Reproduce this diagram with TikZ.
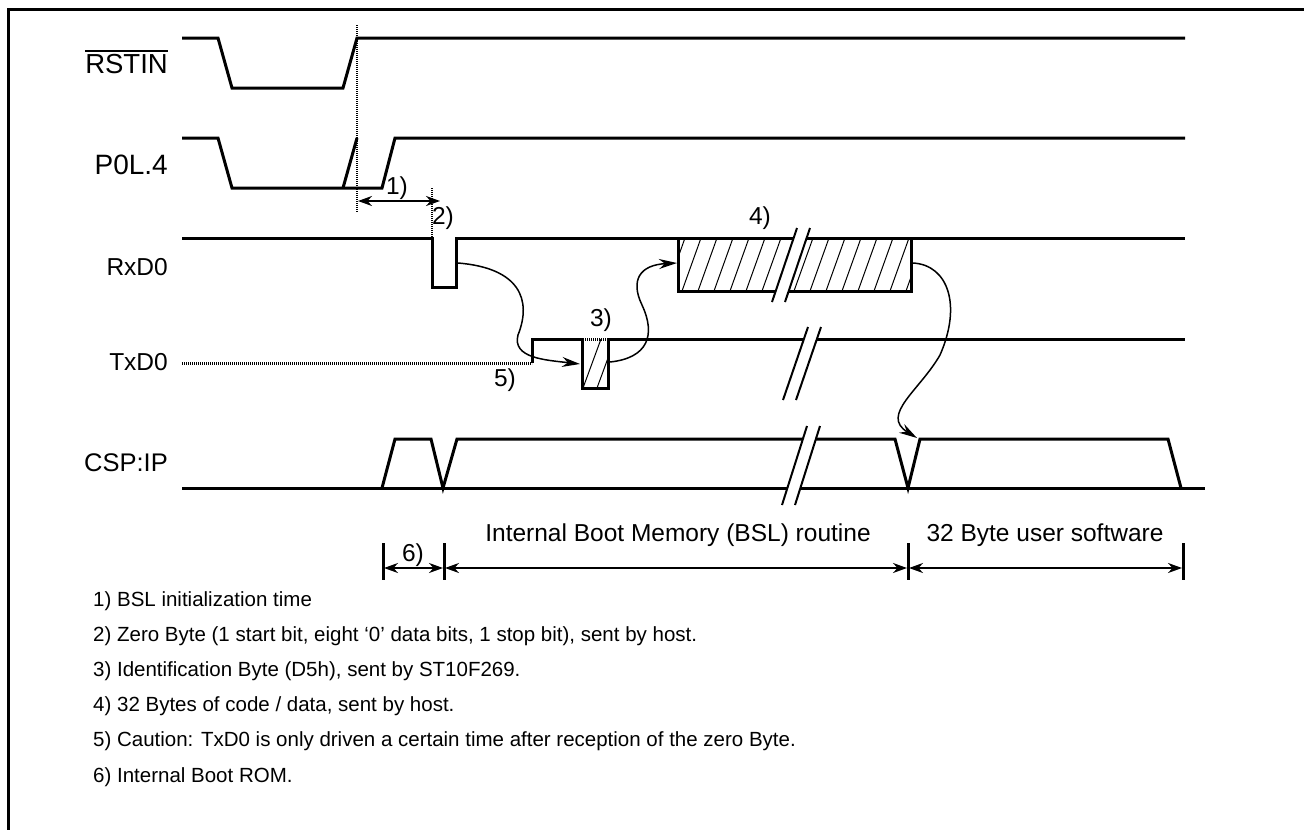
\documentclass[tikz,border=0pt]{standalone}
\usepackage{fontspec}
\setmainfont{Liberation Sans}
\usetikzlibrary{arrows.meta}

\begin{document}
\begin{tikzpicture}[x=1pt,y=-1pt,
  sig/.style={line width=3pt},
  dotline/.style={line width=3pt,dash pattern=on 1.2pt off 0.8pt},
  hatch/.style={line width=1pt},
  handarrow/.style={line width=1.5pt,-{Stealth[length=18pt,width=10pt]}},
  dim/.style={line width=2pt,{Stealth[length=14pt,width=10pt]}-{Stealth[length=14pt,width=10pt]}},
  lbl/.style={inner sep=0pt,font=\fontsize{24.5}{28}\selectfont},
  note/.style={inner sep=0pt,anchor=west,font=\fontsize{20.5}{24}\selectfont}]
\useasboundingbox (0,0) rectangle (1304,830);
% frame
\draw[line width=3pt] (8,830) -- (8,9) -- (1304,9);

% signal names
\node[lbl,anchor=east,font=\fontsize{27.5}{30}\selectfont] (rstin) at (168,64) {RSTIN};
\draw[line width=1.8pt] ([yshift=3pt]rstin.north west) -- ([yshift=3pt]rstin.north east);
\node[lbl,anchor=east,font=\fontsize{28}{30}\selectfont] (p0l) at (168,165) {P0L.4};
\node[lbl,anchor=east] (rxd) at (168,267) {RxD0};
\node[lbl,anchor=east] (txd) at (168,362) {TxD0};
\node[lbl,anchor=east,font=\fontsize{25.5}{28}\selectfont] (csp) at (168,463) {CSP:IP};

% RSTIN
\draw[sig] (182,38) -- (218,38) -- (232,88) -- (343,88) -- (357,38) -- (1185,38);
\draw[dotline,line width=2.5pt] (357,25) -- (357,212);
% P0L.4
\draw[sig] (182,138) -- (218,138) -- (232,188) -- (382,188) -- (395,138) -- (1185,138);
\draw[sig] (343,188) -- (357,138);
\draw[dim] (358,201) -- (440,201);
\node[lbl] (n1) at (397,188) {1)};
\draw[dotline,line width=2.5pt] (432,188) -- (432,238);
\node[lbl] (n2) at (443,218) {2)};

% RxD0
\draw[sig] (182,238) -- (432,238) -- (432,287) -- (456,287) -- (456,238) -- (1185,238);
\begin{scope}
  \clip (678,238) rectangle (911,291);
  \foreach \x in {650,666,...,930} \draw[hatch] (\x,291) -- (\x+19,238);
\end{scope}
\draw[sig] (678,238) rectangle (911,291);
\node[lbl] (n4) at (760,218) {4)};

% TxD0
\draw[dotline] (182,363) -- (532,363);
\begin{scope}
  \clip (582,339) rectangle (608,388);
  \foreach \x in {583,597} \draw[hatch] (\x,388) -- (\x+18,339);
\end{scope}
\draw[sig] (532,363) -- (532,339) -- (582,339) -- (582,388) -- (608,388) -- (608,339) -- (1185,339);
\draw[dotline] (583,339) -- (607,339);
\node[lbl] (n3) at (601,320) {3)};
\node[lbl] (n5) at (505,380) {5)};

% CSP:IP
\draw[sig] (182,488) -- (1205,488);
\draw[sig] (382,488) -- (395,439) -- (431,439) -- (443,488) -- (457,439) -- (895,439)
  -- (908,488) -- (920,439) -- (1168,439) -- (1181,488);

% breaks
\foreach \x/\ya/\yb in {772/302/228, 783/400/327, 782/505/426} {
  \fill[white] (\x,\ya) -- (\x+25,\yb) -- (\x+38,\yb) -- (\x+13,\ya) -- cycle;
  \draw[line width=2pt] (\x,\ya) -- (\x+25,\yb);
  \draw[line width=2pt] (\x+13,\ya) -- (\x+38,\yb);
}

% handshake
\draw[handarrow] (458,263) .. controls (520,268) and (532,300) .. (518,335)
  .. controls (512,358) and (545,360) .. (580,364);
\draw[handarrow] (610,362) .. controls (648,358) and (656,335) .. (642,305)
  .. controls (630,280) and (640,265) .. (677,263);
\draw[handarrow] (913,263) .. controls (948,265) and (962,305) .. (940,355)
  .. controls (920,390) and (880,415) .. (917,438);

% phases
\foreach \x in {383,444,908,1183} \draw[line width=3pt] (\x,543) -- (\x,580);
\draw[dim] (384,568) -- (443,568);
\draw[dim] (445,568) -- (907,568);
\draw[dim] (909,568) -- (1182,568);
\node[lbl] (n6) at (413,555) {6)};
\node[lbl] (bsl) at (678,535) {Internal Boot Memory (BSL) routine};
\node[lbl] (user) at (1045,535) {32 Byte user software};

% notes
\node[note] (t1) at (93,601) {1) BSL initialization time};
\node[note] (t2) at (93,636) {2) Zero Byte (1 start bit, eight ‘0’ data bits, 1 stop bit), sent by host.};
\node[note] (t3) at (93,671) {3) Identification Byte (D5h), sent by ST10F269.};
\node[note] (t4) at (93,706) {4) 32 Bytes of code / data, sent by host.};
\node[note] (t5) at (93,741) {5) Caution: TxD0 is only driven a certain time after reception of the zero Byte.};
\node[note] (t6) at (93,777) {6) Internal Boot ROM.};
\end{tikzpicture}
\end{document}
